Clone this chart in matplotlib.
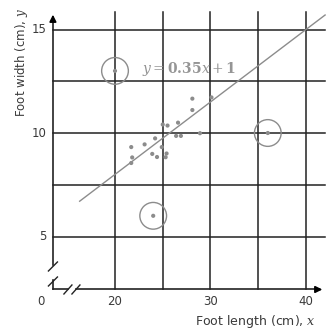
import numpy as np
import matplotlib.pyplot as plt

plt.rcParams['mathtext.fontset'] = 'dejavuserif'

# data
foot_length = [28.1, 28.1, 26.6, 25.0, 25.5, 28.9, 26.4, 26.9, 24.2, 23.1,
               21.7, 24.9, 23.9, 24.4, 25.4, 25.3, 21.8, 21.7, 30.1]
foot_width = [11.66, 11.11, 10.5, 10.41, 10.36, 9.99, 9.86, 9.86, 9.74, 9.45,
              9.32, 9.32, 8.99, 8.84, 9.01, 8.83, 8.82, 8.55, 11.72]
outlier_x = [20, 36, 24]
outlier_y = [13, 10, 6]
slope, intercept = 0.35, 1
x_ticks = [20, 30, 40]
y_ticks = [5, 10, 15]
x_grid = [20, 25, 30, 35, 40]
y_grid = [5, 7.5, 10, 12.5, 15]

# axes corner (broken axes) and extents
x0, y0 = 13.5, 2.44
x_end, y_end = 42.0, 15.85
sx, sy = 9.55, 20.7  # pixels per unit

fig = plt.figure(figsize=(3.27, 3.29), dpi=100)
ax = fig.add_axes([0, 0, 1, 1])
ax.set_xlim(20 - 115 / sx, 20 + 212 / sx)
ax.set_ylim(10 - 196 / sy, 10 + 133 / sy)
ax.axis('off')

dark = '#222222'
gray = '#8c8c8c'
txt = '#3a3a3a'

# grid
for gx in x_grid:
    ax.plot([gx, gx], [y0, y_end], color=dark, lw=1.1, zorder=1)
for gy in y_grid:
    ax.plot([x0, x_end], [gy, gy], color=dark, lw=1.1, zorder=1)

# axes with breaks
gap_y = (y0 + 9 / sy, y0 + 24 / sy)
gap_x = (x0 + 15 / sx, x0 + 23 / sx)
ax.plot([x0, x0], [gap_y[1], y_end - 0.3], color=dark, lw=1.2, zorder=2)
ax.plot([x0, x0], [y0, gap_y[0]], color=dark, lw=1.2, zorder=2)
ax.plot([x0, gap_x[0]], [y0, y0], color=dark, lw=1.2, zorder=2)
ax.plot([gap_x[1], x_end - 0.6], [y0, y0], color=dark, lw=1.2, zorder=2)
for cy in (gap_y[0] - 1 / sy, gap_y[1] - 1 / sy):
    ax.plot([x0 - 4.5 / sx, x0 + 4.5 / sx], [cy - 4.5 / sy, cy + 4.5 / sy],
            color=dark, lw=1.0, zorder=2)
for cx in gap_x:
    ax.plot([cx - 4 / sx, cx + 4 / sx], [y0 - 4.5 / sy, y0 + 4.5 / sy],
            color=dark, lw=1.0, zorder=2)
ax.annotate('', xy=(x0, y_end), xytext=(x0, y_end - 0.5),
            arrowprops=dict(arrowstyle='-|>', color='black', lw=1.2,
                            mutation_scale=10), zorder=3)
ax.annotate('', xy=(x_end, y0), xytext=(x_end - 1.0, y0),
            arrowprops=dict(arrowstyle='-|>', color='black', lw=1.2,
                            mutation_scale=10), zorder=3)

# tick labels
for t in x_ticks:
    ax.text(t, y0 - 12.5 / sy, str(t), ha='center', va='center', fontsize=8.5, color=txt)
for t in y_ticks:
    ax.text(x0 - 6 / sx, t, str(t), ha='right', va='center', fontsize=8.5, color=txt)
ax.text(x0 - 12 / sx, y0 - 12.5 / sy, '0', ha='center', va='center', fontsize=8.5, color=txt)

# axis labels
ax.text(41.0, 0.88, 'Foot length (cm), $x$', ha='right', va='center',
        fontsize=9, color=txt)
ax.text(10.26, 13.4, 'Foot width (cm), $y$', ha='center', va='center',
        rotation=90, fontsize=8.5, color=txt)

# regression line
lx = np.array([16.3, 42.0])
ax.plot(lx, slope * lx + intercept, color=gray, lw=1.0, zorder=4)
ax.text(22.8, 13.1, r'$y = \mathbf{0.35}x + \mathbf{1}$', ha='left', va='center',
        fontsize=10, color='#959595', zorder=4)

# points
ax.scatter(foot_length, foot_width, s=9, color=gray, edgecolors='none', zorder=5)
ax.scatter(outlier_x, outlier_y, s=9, color=gray, edgecolors='none', zorder=5)
ax.scatter(outlier_x, outlier_y, s=370, facecolors='none', edgecolors=gray,
           linewidths=1.0, zorder=5)

fig.savefig('out.png', dpi=100)
